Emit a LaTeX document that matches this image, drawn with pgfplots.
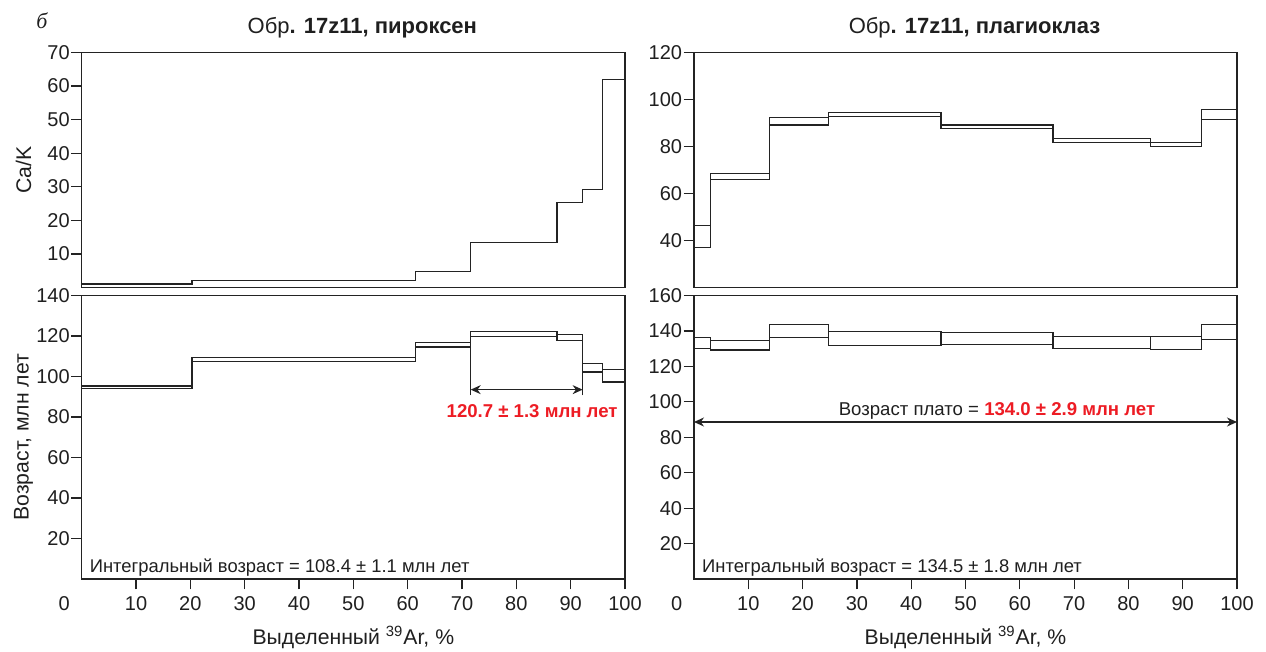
\documentclass[border=0pt]{standalone}
\usepackage{fontspec}
\setmainfont{Liberation Sans}
\newfontfamily\seriffont{Liberation Serif}
\usepackage{pgfplots}
\pgfplotsset{compat=1.18}
\usetikzlibrary{arrows.meta}
\definecolor{redlab}{RGB}{237,28,36}
\definecolor{ln}{RGB}{35,35,35}
\pgfplotsset{
  panel/.style={
    scale only axis,
    xmin=0, xmax=100,
    clip=false,
    axis line style={line width=0.6pt, draw=ln},
    every tick/.style={line width=0.6pt, draw=ln},
    tick align=outside,
    major tick length=5.2pt,
    xtick pos=bottom, ytick pos=left,
    ticklabel style={font=\fontsize{10}{10}\selectfont, text=black!88},
    /pgf/number format/assume math mode=true,
    yticklabel style={inner sep=0.6pt},
    unbounded coords=jump,
    title style={at={(axis description cs:0.5,1)}, anchor=base, yshift=3.5pt, xshift=4.5pt, font=\fontsize{11}{12}\selectfont, text=black!88},
    label style={font=\fontsize{10.6}{12}\selectfont, text=black!88},
  },
  stp/.style={draw=ln, line width=0.6pt, mark=none},
  ylab/.style={y label style={at={(axis description cs:-0.107,0.5)}, anchor=center}},
  xlab/.style={
    x label style={at={(axis description cs:0.5,-0.205)}, anchor=center},
    xlabel={Выделенный \textsuperscript{39}Ar, \%},
    xtick={10,20,...,100},
    extra x ticks={0}, extra x tick labels={0},
    extra x tick style={major tick style={draw=none}, xticklabel style={xshift=-8.7pt}},
  },
}
\begin{document}
\begin{tikzpicture}
\useasboundingbox (0,0) rectangle (633pt,326pt);
\node[font=\seriffont\itshape\fontsize{11}{11}\selectfont, text=black!88] at (21pt,315.5pt) {б};

% ---------- top left: Ca/K pyroxene ----------
\begin{axis}[panel, ylab, at={(40.85pt,182.15pt)}, anchor=south west,
  width=271.65pt, height=117.7pt,
  ymin=0, ymax=70, ytick={10,20,...,70}, xtick=\empty,
  ylabel={Ca/K},
  title={Обр\textbf{. 17z11, пироксен}}]
\addplot[stp, const plot] coordinates {(0,1.1) (20.3,2.2) (61.5,4.9) (71.6,13.4) (87.5,25.3) (92.2,29.1) (95.8,61.8) (100,61.8)};
\end{axis}

% ---------- bottom left: age pyroxene ----------
\begin{axis}[panel, ylab, xlab, at={(40.85pt,36.5pt)}, anchor=south west,
  width=271.65pt, height=141.75pt,
  ymin=0, ymax=140, ytick={20,40,...,140},
  ylabel={Возраст, млн лет}]
\addplot[stp, const plot] coordinates {(0,95.3) (20.3,109.2) (61.5,116.9) (71.6,122.4) (87.5,120.9) (92.2,106.4) (95.8,103.4) (100,103.4)};
\addplot[stp, const plot] coordinates {(0,93.9) (20.3,107.5) (61.5,114.6) (71.6,119.9) (87.5,117.9) (92.2,102.2) (95.8,97.3) (100,97.3)};
\addplot[stp] coordinates {(20.3,93.9) (20.3,109.2) (20.3,nan) (61.5,107.5) (61.5,116.9) (61.5,nan) (71.6,90.7) (71.6,122.4) (71.6,nan) (87.5,117.9) (87.5,122.4) (87.5,nan) (92.2,90.7) (92.2,120.9) (92.2,nan) (95.8,97.3) (95.8,106.4)};
\addplot[stp, {Stealth[length=5pt,width=4.5pt]}-{Stealth[length=5pt,width=4.5pt]}] coordinates {(71.6,93.5) (92.2,93.5)};
\node[text=redlab, font=\bfseries\fontsize{9.3}{10}\selectfont] at (axis cs:82.9,82.8) {120.7 ± 1.3 млн лет};
\node[anchor=west, font=\fontsize{9.2}{10}\selectfont, text=black!88] at (rel axis cs:0.002,0.042) {Интегральный возраст = 108.4 ± 1.1 млн лет};
\end{axis}

% ---------- top right: Ca/K plagioclase ----------
\begin{axis}[panel, at={(347pt,182.15pt)}, anchor=south west,
  width=271.5pt, height=117.7pt,
  ymin=20, ymax=120, ytick={40,60,...,120}, xtick=\empty,
  title={Обр\textbf{. 17z11, плагиоклаз}}]
\addplot[stp, const plot] coordinates {(0,46.5) (3.06,68.6) (13.96,92.4) (24.78,94.5) (45.5,89.1) (66.1,83.3) (84.0,81.6) (93.4,95.8) (100,95.8)};
\addplot[stp, const plot] coordinates {(0,37.2) (3.06,65.8) (13.96,89.1) (24.78,92.8) (45.5,87.6) (66.1,81.6) (84.0,79.9) (93.4,91.5) (100,91.5)};
\addplot[stp] coordinates {(3.06,37.2) (3.06,68.6) (3.06,nan) (13.96,65.8) (13.96,92.4) (13.96,nan) (24.78,89.1) (24.78,94.5) (24.78,nan) (45.5,87.6) (45.5,94.5) (45.5,nan) (66.1,81.6) (66.1,89.1) (66.1,nan) (84.0,79.9) (84.0,83.3) (84.0,nan) (93.4,79.9) (93.4,95.8)};
\end{axis}

% ---------- bottom right: age plagioclase ----------
\begin{axis}[panel, xlab, at={(347pt,36.5pt)}, anchor=south west,
  width=271.5pt, height=141.75pt,
  ymin=0, ymax=160, ytick={20,40,...,160}]
\addplot[stp, const plot] coordinates {(0,136.1) (3.06,134.6) (13.96,143.6) (24.78,139.7) (45.5,139.3) (66.1,136.9) (84.0,136.9) (93.4,143.6) (100,143.6)};
\addplot[stp, const plot] coordinates {(0,130.1) (3.06,129.2) (13.96,136.1) (24.78,131.8) (45.5,132.2) (66.1,130.1) (84.0,129.5) (93.4,135.2) (100,135.2)};
\addplot[stp] coordinates {(3.06,129.2) (3.06,136.1) (3.06,nan) (13.96,129.2) (13.96,143.6) (13.96,nan) (24.78,131.8) (24.78,143.6) (24.78,nan) (45.5,131.8) (45.5,139.7) (45.5,nan) (66.1,130.1) (66.1,139.3) (66.1,nan) (84.0,129.5) (84.0,136.9) (84.0,nan) (93.4,129.5) (93.4,143.6)};
\addplot[stp, {Stealth[length=5pt,width=4.5pt]}-{Stealth[length=5pt,width=4.5pt]}] coordinates {(0,88.6) (100,88.6)};
\node[font=\fontsize{9.3}{10}\selectfont, text=black!88] at (axis cs:55.8,94.8) {Возраст плато = \textcolor{redlab}{\bfseries 134.0 ± 2.9 млн лет}};
\node[anchor=west, font=\fontsize{9.2}{10}\selectfont, text=black!88] at (rel axis cs:0.002,0.042) {Интегральный возраст = 134.5 ± 1.8 млн лет};
\end{axis}
\end{tikzpicture}
\end{document}
